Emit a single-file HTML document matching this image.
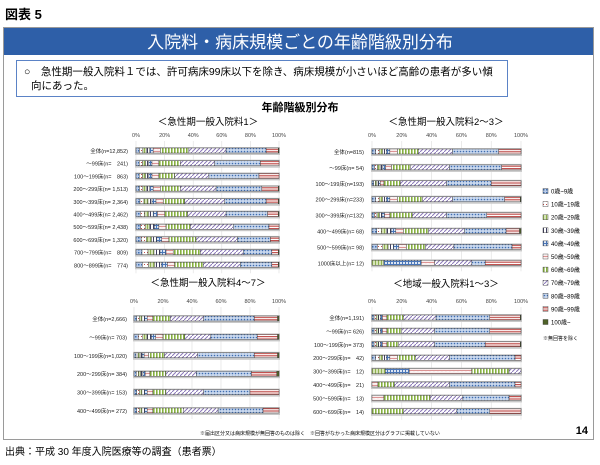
<!DOCTYPE html>
<html><head><meta charset="utf-8"><style>
body{margin:0;background:#fff;width:600px;height:460px;overflow:hidden;font-family:"Liberation Sans","Noto Sans CJK JP",sans-serif}
svg text{font-family:"Liberation Sans","Noto Sans CJK JP",sans-serif}
</style></head><body>
<svg id="s" width="600" height="460" viewBox="0 0 600 460" xmlns="http://www.w3.org/2000/svg">
<defs>
<pattern id="p0" width="3" height="3" patternUnits="userSpaceOnUse"><rect width="3" height="3" fill="#b9cbe8"/><rect width="1.5" height="1.5" fill="#3f6fb0"/></pattern>
<pattern id="p1" width="3" height="3" patternUnits="userSpaceOnUse"><rect width="3" height="3" fill="#fff"/><rect width="1" height="1" fill="#c0504d"/></pattern>
<pattern id="p2" width="3" height="3" patternUnits="userSpaceOnUse"><rect width="3" height="3" fill="#d6e4b8"/><rect width="1" height="3" fill="#8fb050"/></pattern>
<pattern id="p3" width="3" height="3" patternUnits="userSpaceOnUse"><rect width="3" height="3" fill="#fff"/><rect width="1" height="3" fill="#404060"/></pattern>
<pattern id="p4" width="3" height="3" patternUnits="userSpaceOnUse"><rect width="3" height="3" fill="#dbe5f3"/><rect width="3" height="1" fill="#4a76b8"/><rect width="1" height="3" fill="#4a76b8"/></pattern>
<pattern id="p5" width="4" height="3" patternUnits="userSpaceOnUse"><rect width="4" height="3" fill="#fff"/><path d="M0 2 L1 1 L2 2 L3 1 L4 2" stroke="#d07070" stroke-width="0.7" fill="none"/></pattern>
<pattern id="p6" width="3" height="3" patternUnits="userSpaceOnUse"><rect width="3" height="3" fill="#fff"/><rect width="1.6" height="3" fill="#86b040"/></pattern>
<pattern id="p7" width="4" height="4" patternUnits="userSpaceOnUse"><rect width="4" height="4" fill="#fff"/><path d="M0 4 L4 0" stroke="#8a78b8" stroke-width="1"/></pattern>
<pattern id="p8" width="3" height="3" patternUnits="userSpaceOnUse"><rect width="3" height="3" fill="#c9d8ee"/><circle cx="1.5" cy="1.5" r="0.8" fill="#3e6cb0"/></pattern>
<pattern id="p9" width="3" height="2.4" patternUnits="userSpaceOnUse"><rect width="3" height="2.4" fill="#fff"/><rect width="3" height="1.2" fill="#c0504d"/></pattern>
<pattern id="p10" width="3" height="3" patternUnits="userSpaceOnUse"><rect width="3" height="3" fill="#4f6228"/></pattern>
</defs>
<text x="5" y="19" font-size="13" font-weight="bold">図表 5</text>
<rect x="3.5" y="27.5" width="590" height="412" fill="#fff" stroke="#9a9a9a"/>
<rect x="4" y="28" width="589" height="27" fill="#2e5fa8"/>
<text x="300" y="48" font-size="17" fill="#fff" text-anchor="middle">入院料・病床規模ごとの年齢階級別分布</text>
<rect x="16.5" y="60.5" width="491" height="36" fill="#fff" stroke="#5b83c6"/>
<text x="24" y="75" font-size="10.5">○　急性期一般入院料１では、許可病床99床以下を除き、病床規模が小さいほど高齢の患者が多い傾</text>
<text x="31" y="89" font-size="10.5">向にあった。</text>
<text x="300" y="111" font-size="11" font-weight="bold" text-anchor="middle">年齢階級別分布</text>
<text x="208" y="125" font-size="9.5" text-anchor="middle">＜急性期一般入院料1＞</text>
<text x="446" y="125" font-size="9.5" text-anchor="middle">＜急性期一般入院料2～3＞</text>
<text x="208" y="286" font-size="9.5" text-anchor="middle">＜急性期一般入院料4～7＞</text>
<text x="446" y="287" font-size="9.5" text-anchor="middle">＜地域一般入院料1～3＞</text>
<text x="200" y="435" font-size="5">※届出区分又は病床規模が無回答のものは除く　※回答がなかった病床規模区分はグラフに掲載していない</text>
<text x="588" y="434" font-size="11" font-weight="bold" text-anchor="end">14</text>
<text x="5" y="455" font-size="10">出典：平成 30 年度入院医療等の調査（患者票）</text>
<g id="legend"></g>
<g id="charts"></g>
</svg>
<script>
var NS="http://www.w3.org/2000/svg",G=document.getElementById("charts");
function el(t,a,txt){var e=document.createElementNS(NS,t);for(var k in a)e.setAttribute(k,a[k]);if(txt)e.textContent=txt;G.appendChild(e);return e;}
function gen(r){ if(r.length==11) return r; var c50=r[0],w5=Math.min(5,c50*0.3),s=(c50-w5)/5,a=[s,s,s,s,s,w5];a.push(r[1]-r[0],r[2]-r[1],r[3]-r[2],r[4]-r[3],100-r[4]);return a;}
function chart(x0,x1,tickY,y0,dy,labX,labels,rows){
 var W=x1-x0,bh=5;
 for(var i=0;i<=5;i++){var x=x0+W*i/5;el("text",{x:x,y:tickY,"font-size":5.5,"text-anchor":"middle",fill:"#444"},(i*20)+"%");
   el("line",{x1:x,x2:x,y1:tickY+4,y2:y0+dy*(rows.length-1)+8,stroke:"#ddd","stroke-width":0.6});}
 rows.forEach(function(r,j){var y=y0+dy*j,a=gen(r),cx=x0;
  el("rect",{x:x0-1,y:y-4,width:W+2,height:8,fill:"#c8c8c8"});
  el("text",{x:labX,y:y+2,"font-size":5.5,"text-anchor":"end",fill:"#222"},labels[j]);
  a.forEach(function(v,k){if(v<=0)return;var w=W*v/100;el("rect",{x:cx,y:y-bh/2-0.5,width:w,height:bh,fill:"url(#p"+k+")",stroke:"#333","stroke-width":0.4});cx+=w;});
 });
}
chart(136,279,137,151,12.7,128,["全体(n=12,852)","～99床(n=　241)","100～199床(n=　863)","200～299床(n= 1,513)","300～399床(n= 2,364)","400～499床(n= 2,462)","500～599床(n= 2,438)","600～699床(n= 1,320)","700～799床(n=　809)","800～899床(n=　774)"],
[[17,37,63,91,99.5],[16,31,55,87,100],[16,27,51,86,100],[17,31,56,88,99.5],[19,34,62,91,99.5],[20,36,63,92,99.5],[21,38,68,93,100],[23,42,71,94,100],[26,45,75,95,99.5],[27,47,73,95,99.5]]);
chart(372,521,137,152,15.9,364,["全体(n=815)","～99床(n= 54)","100～199床(n=193)","200～299床(n=233)","300～399床(n=132)","400～499床(n= 68)","500～599床(n= 98)","1000床以上(n= 12)"],
[[17,31,54,85,100],[13,26,52,87,100],[8,19,50,80,100],[17,34,54,89,99.5],[12,27,50,77,100],[21,38,62,90,99],[23,36,55,94,100],[0,0,8,0,25,9,0,25,9,24,0]]);
chart(134,279,303,319,18.4,127,["全体(n=2,666)","～99床(n= 703)","100～199床(n=1,020)","200～299床(n= 384)","300～399床(n= 153)","400～499床(n= 272)"],
[[13,25,48,83,99],[20,35,53,85,99],[10,21,44,83,99],[11,22,43,81,98.5],[13,22,48,80,100],[13,34,58,89,100]]);
chart(372,521,303,318,13.4,364,["全体(n=1,191)","～99床(n= 626)","100～199床(n= 373)","200～299床(n=　42)","300～399床(n=　12)","400～499床(n=　21)","500～599床(n=　13)","600～699床(n=　14)"],
[[10,21,43,79,99.5],[10,20,42,79,100],[10,18,42,76,99.5],[17,29,52,96,100],[0,0,9,0,16,42,25,8,0,0,0],[0,0,0,0,0,4,11,37,44,4,0],[0,0,0,0,0,8,31,22,31,8,0],[0,0,0,0,0,0,21,36,22,21,0]]);
var L=["0歳~9歳","10歳~19歳","20歳~29歳","30歳~39歳","40歳~49歳","50歳~59歳","60歳~69歳","70歳~79歳","80歳~89歳","90歳~99歳","100歳~"];
L.forEach(function(t,i){var y=192+i*13.1;el("rect",{x:543,y:y-3.5,width:5,height:5,fill:"url(#p"+i+")",stroke:"#333","stroke-width":0.4});el("text",{x:551,y:y+1.5,"font-size":6},t);});
el("text",{x:543,y:340,"font-size":5},"※無回答を除く");
</script>
</body></html>
